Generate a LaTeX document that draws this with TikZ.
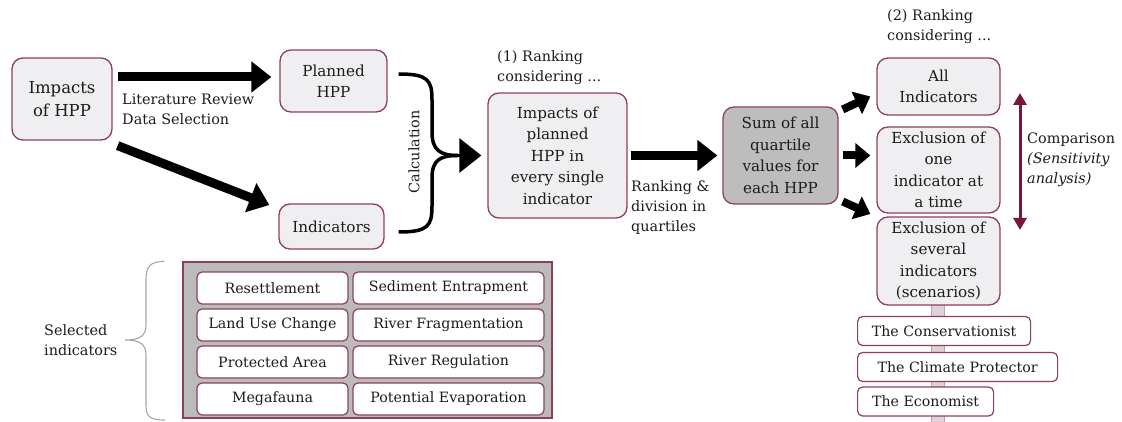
\documentclass[tikz,border=0pt]{standalone}
\usepackage{fontspec}
\setmainfont{DejaVu Serif}
\usetikzlibrary{arrows.meta}
\definecolor{boxline}{HTML}{8E3F60}
\definecolor{boxfill}{HTML}{EFEEF0}
\definecolor{sumfill}{HTML}{BEBDBE}
\definecolor{panelfill}{HTML}{BBBBBB}
\definecolor{cmpline}{HTML}{7A1638}
\definecolor{txt}{HTML}{1C1C1C}
\definecolor{barfill}{HTML}{DDD2D7}
\newcommand{\fhuge}{\fontsize{16.5}{23}\selectfont}
\newcommand{\fbig}{\fontsize{15.2}{21.5}\selectfont}
\newcommand{\fmid}{\fontsize{14.4}{20}\selectfont}
\newcommand{\fsmall}{\fontsize{14.2}{17}\selectfont}
\tikzset{box/.style = {draw=boxline, fill=boxfill, line width=1.3pt, rounded corners=11pt, align=center, text=txt, font=\fbig, inner sep=0pt}}
\tikzset{indbox/.style = {draw=boxline, fill=white, line width=1.2pt, rounded corners=5pt, font=\fsmall, text=txt, minimum height=32pt, inner sep=0pt}}
\tikzset{scen/.style = {draw=boxline, fill=white, line width=1.2pt, rounded corners=5pt, font=\fsmall, text=txt, minimum height=29pt, inner sep=0pt}}
\tikzset{annot/.style = {font=\fmid, text=txt, align=left, inner sep=0pt}}
\tikzset{fat/.style = {line width=9pt, -{Triangle[length=20pt,width=30pt]}}}
\tikzset{fan/.style = {line width=8pt, -{Triangle[length=15pt,width=24pt]}}}
\tikzset{calcline/.style = {line width=3.5pt}}

\begin{document}
\begin{tikzpicture}[x=1pt,y=-1pt]
        \useasboundingbox (0,0) rectangle (1122,422);
        % left part
        \node[box, font=\fhuge, minimum width=100pt, minimum height=82pt] (impacts) at (62,99) {Impacts\\of HPP};
        \node[box, minimum width=107pt, minimum height=62pt] (planned) at (333.5,81) {Planned\\HPP};
        \node[box, minimum width=105pt, minimum height=45pt] (indic) at (331.5,226.5) {Indicators};
        \draw[fat] ([shift={(5,-22)}]impacts.east) -- ([shift={(-8,-4)}]planned.west);
        \draw[fat] ([shift={(5,5)}]impacts.south east) -- ([shift={(-9,-21.5)}]indic.west);
        \node[annot, anchor=west] (litrev) at (122,109) {Literature Review\\Data Selection};
        % calculation brace
        \node[box, minimum width=139pt, minimum height=125pt] (big) at (557.5,155.5) {Impacts of\\planned\\HPP in\\every single\\indicator};
        \coordinate (merge) at (458,155.5);
        \draw[calcline] ([shift={(11,-7)}]planned.east) .. controls (428,74) and (432,80) .. (432,100) -- (432,132) .. controls (432,150) and (440,155.5) .. (merge);
        \draw[calcline] ([shift={(14,5.5)}]indic.east) .. controls (428,232) and (432,226) .. (432,206) -- (432,178) .. controls (432,160) and (440,155.5) .. (merge);
        \draw[calcline, -{Triangle[length=22pt,width=34pt]}] (merge) -- ([xshift=-6pt]big.west);
        \node[annot, rotate=90] (calc) at (414,152) {Calculation};
        \node[annot, anchor=west] (rank1) at (497,68) {(1) Ranking\\considering ...};
        % quartiles
        \node[box, fill=sumfill, minimum width=115pt, minimum height=97pt] (sum) at (780.5,155.5) {Sum of all\\quartile\\values for\\each HPP};
        \draw[fat] ([xshift=3pt]big.east) -- ([xshift=-5pt]sum.west);
        \node[annot, anchor=west] (quart) at (631,208) {Ranking \&\\division in\\quartiles};
        % right column
        \filldraw[fill=barfill, draw=boxline!50, line width=0.6pt] (931,300) rectangle (944,422);
        \node[annot, anchor=west] (rank2) at (887,27) {(2) Ranking\\considering ...};
        \node[box, minimum width=123pt, minimum height=57pt] (all) at (938.5,86.5) {All\\Indicators};
        \node[box, minimum width=123pt, minimum height=86pt] (one) at (938.5,170) {Exclusion of\\one\\indicator at\\a time};
        \node[box, minimum width=123pt, minimum height=88pt] (several) at (938.5,261) {Exclusion of\\several\\indicators\\(scenarios)};
        \node[scen, anchor=west, minimum width=173pt] (conserv) at (857,331) {The Conservationist};
        \node[scen, anchor=west, minimum width=200pt] (climate) at (857,367) {The Climate Protector};
        \node[scen, anchor=west, minimum width=136pt] (econ) at (857,401.5) {The Economist};
        \draw[fan] ([shift={(4,-46)}]sum.east) -- ([shift={(-6,10)}]all.west);
        \draw[fan] ([xshift=4pt]sum.east) -- ([shift={(-6,-14.5)}]one.west);
        \draw[fan] ([shift={(4,46)}]sum.east) -- ([shift={(-6,-47)}]several.west);
        \coordinate (cmptop) at (1020,93);
        \coordinate (cmpbot) at (1020,230);
        \draw[cmpline, line width=3pt, {Triangle[length=12pt,width=13pt]}-{Triangle[length=12pt,width=13pt]}] (cmptop) -- (cmpbot);
        \node[annot, anchor=west] (cmp) at (1027,160) {Comparison\\\textit{(Sensitivity}\\\textit{analysis)}};
        % selected indicators
        \node[draw=boxline, fill=panelfill, line width=1.5pt, minimum width=369pt, minimum height=156pt, inner sep=0pt] (panel) at (367.5,340) {};
        \node[indbox, minimum width=151pt] (resettle) at (272.5,288) {Resettlement};
        \node[indbox, minimum width=191pt] (sediment) at (448.5,288) {Sediment Entrapment};
        \node[indbox, minimum width=151pt] (landuse) at (272.5,325) {Land Use Change};
        \node[indbox, minimum width=191pt] (fragment) at (448.5,325) {River Fragmentation};
        \node[indbox, minimum width=151pt] (protect) at (272.5,362) {Protected Area};
        \node[indbox, minimum width=191pt] (regul) at (448.5,362) {River Regulation};
        \node[indbox, minimum width=151pt] (megafauna) at (272.5,399) {Megafauna};
        \node[indbox, minimum width=191pt] (evapor) at (448.5,399) {Potential Evaporation};
        \node[annot, anchor=west] (selind) at (44,340) {Selected\\indicators};
        \draw[gray!70, line width=1.1pt] ([xshift=-18pt]panel.north west) .. controls (150,262) and (146,266) .. (146,280) -- (146,325) .. controls (146,336) and (140,340) .. (125,340) .. controls (140,340) and (146,344) .. (146,355) -- (146,405) .. controls (146,417) and (150,420) .. (165,420);
\end{tikzpicture}
\end{document}
